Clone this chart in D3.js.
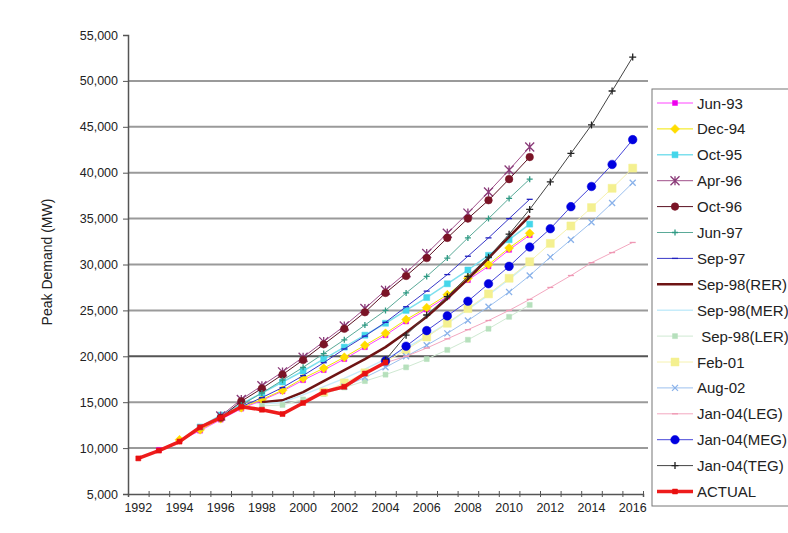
<!DOCTYPE html>
<html>
<head>
<meta charset="utf-8">
<script src="https://cdn.jsdelivr.net/npm/d3@7"></script>
<style>
  body { margin: 0; background: #fff; }
  text { font-family: "Liberation Sans", Arial, sans-serif; fill: #222; }
</style>
</head>
<body>
<div id="chart"></div>
<script>
// categories (years on the x axis)
const years = [1992, 1993, 1994, 1995, 1996, 1997, 1998, 1999, 2000, 2001, 2002, 2003, 2004,
               2005, 2006, 2007, 2008, 2009, 2010, 2011, 2012, 2013, 2014, 2015, 2016];
const yearLabels = [1992, 1994, 1996, 1998, 2000, 2002, 2004, 2006, 2008, 2010, 2012, 2014, 2016];
const yTicks = [5000, 10000, 15000, 20000, 25000, 30000, 35000, 40000, 45000, 50000, 55000];

// series values (MW), each starts at its own first year
const actual   = [8877, 9730, 10709, 12268, 13311, 14506, 14180, 13712, 14918, 16126, 16681, 18121, 19326]; // 1992-2004
const jun93    = [9800, 10800, 11900, 13100, 14300, 15200, 16200, 17400, 18500, 19700, 21000, 22300, 23800, 25100, 26500, 28300, 29800, 31600, 33200]; // 1993-2011
const dec94    = [10900, 12000, 13200, 14400, 15300, 16300, 17600, 18700, 19900, 21200, 22500, 24000, 25300, 26700, 28500, 30000, 31800, 33400]; // 1994-2011
const oct95    = [12300, 13600, 14800, 16000, 17200, 18400, 19700, 21000, 22300, 23600, 25000, 26400, 27900, 29400, 31000, 32700, 34400]; // 1995-2011
const apr96    = [13500, 15300, 16800, 18300, 19900, 21600, 23300, 25200, 27200, 29100, 31200, 33400, 35600, 37900, 40300, 42800]; // 1996-2011
const oct96    = [13300, 15100, 16500, 18000, 19600, 21300, 23000, 24800, 26900, 28750, 30700, 32900, 35000, 37000, 39300, 41700]; // 1996-2011
const jun97    = [14700, 16000, 17400, 18800, 20300, 21800, 23400, 25000, 26900, 28700, 30700, 32900, 35000, 37200, 39300]; // 1997-2011
const sep97    = [14500, 15500, 16600, 17900, 19300, 20800, 22200, 23700, 25400, 27100, 28900, 30900, 32900, 35000, 37100]; // 1997-2011
const sep98rer = [15000, 15200, 16100, 17300, 18500, 19700, 21000, 22600, 24300, 26300, 28400, 30700, 33000, 35300]; // 1998-2011
const sep98mer = [14800, 15000, 15800, 16700, 17600, 18600, 19700, 20900, 22200, 23600, 25100, 26700, 28400, 30200]; // 1998-2011
const sep98ler = [14600, 14700, 15300, 15900, 16600, 17300, 18000, 18800, 19700, 20700, 21800, 23000, 24300, 25600]; // 1998-2011
const feb01    = [16100, 17100, 18200, 19400, 20700, 22100, 23600, 25200, 26800, 28500, 30300, 32300, 34200, 36200, 38300, 40500]; // 2001-2016
const aug02    = [16700, 17700, 18800, 20000, 21200, 22500, 23900, 25400, 27000, 28800, 30800, 32700, 34600, 36700, 38900]; // 2002-2016
const jan04leg = [19300, 20000, 20900, 21900, 22900, 23900, 25000, 26200, 27500, 28800, 30200, 31300, 32400]; // 2004-2016
const jan04meg = [19500, 21100, 22800, 24400, 26000, 27900, 29800, 31900, 33900, 36300, 38500, 40900, 43600]; // 2004-2016
const jan04teg = [19600, 22300, 24500, 26500, 28700, 30800, 33300, 36000, 39000, 42100, 45200, 48900, 52600]; // 2004-2016

// series table: name, first year, values and how it is drawn
let series = [
  {name: "Jun-93",      start: 1993, values: jun93,    color: "#ff44ff", width: 1,   marker: "square",  mcolor: "#ee00ee", r: 2.5},
  {name: "Dec-94",      start: 1994, values: dec94,    color: "#f2e600", width: 1,   marker: "diamond", mcolor: "#ffdd00", r: 4.5},
  {name: "Oct-95",      start: 1995, values: oct95,    color: "#7ee0ee", width: 1.5, marker: "square",  mcolor: "#44d6ea", r: 3},
  {name: "Apr-96",      start: 1996, values: apr96,    color: "#a0508a", width: 1,   marker: "star",    mcolor: "#8a3a78", r: 4.5},
  {name: "Oct-96",      start: 1996, values: oct96,    color: "#5a1020", width: 1,   marker: "circle",  mcolor: "#7a1426", r: 3.8},
  {name: "Jun-97",      start: 1997, values: jun97,    color: "#5aaa98", width: 1,   marker: "plus",    mcolor: "#2f9a84", r: 3},
  {name: "Sep-97",      start: 1997, values: sep97,    color: "#3838c8", width: 1,   marker: "dash",    mcolor: "#2020c0", r: 3},
  {name: "Sep-98(RER)", start: 1998, values: sep98rer, color: "#6e1414", width: 2.5, marker: null},
  {name: "Sep-98(MER)", start: 1998, values: sep98mer, color: "#c6ecfa", width: 1.5, marker: null},
  {name: " Sep-98(LER)", start: 1998, values: sep98ler, color: "#cfe9d2", width: 1,  marker: "square",  mcolor: "#b6e0bc", r: 2.5},
  {name: "Feb-01",      start: 2001, values: feb01,    color: "#f6f2b0", width: 1,   marker: "square",  mcolor: "#f4f090", r: 4},
  {name: "Aug-02",      start: 2002, values: aug02,    color: "#9cc0ee", width: 1,   marker: "x",       mcolor: "#8ab2ea", r: 3},
  {name: "Jan-04(LEG)", start: 2004, values: jan04leg, color: "#f3a8c0", width: 1,   marker: "dash",    mcolor: "#ef98b4", r: 3},
  {name: "Jan-04(MEG)", start: 2004, values: jan04meg, color: "#4646d8", width: 1,   marker: "circle",  mcolor: "#0000e0", r: 4.3},
  {name: "Jan-04(TEG)", start: 2004, values: jan04teg, color: "#444444", width: 1,   marker: "plus",    mcolor: "#222222", r: 3.5},
  {name: "ACTUAL",      start: 1992, values: actual,   color: "#ee1c1c", width: 3.5, marker: "square",  mcolor: "#e81010", r: 2.5}
];

let W = 788, H = 533;
let plot = {left: 128, right: 643, top: 35, bottom: 494};

let svg = d3.select("#chart")
  .append("svg")
    .attr("width", W)
    .attr("height", H);

// scales
let x = d3.scaleLinear()
    .domain([years[0] - 0.5, years[years.length - 1] + 0.5])
    .range([plot.left, plot.right]);

let y = d3.scaleLinear()
    .domain([5000, 55000])
    .range([plot.bottom, plot.top]);

// horizontal grid lines
svg.append("g")
  .selectAll("line")
  .data(yTicks.filter(v => v > 5000 && v < 55000))
  .enter().append("line")
    .attr("x1", plot.left)
    .attr("x2", plot.right + 5)
    .attr("y1", d => y(d))
    .attr("y2", d => y(d))
    .attr("stroke", d => d === 20000 ? "#555" : "#9a9a9a")
    .attr("stroke-width", 2);

// y axis
let yAxis = svg.append("g")
    .attr("transform", `translate(${plot.left},0)`)
    .call(d3.axisLeft(y)
      .tickValues(yTicks)
      .tickSize(5)
      .tickPadding(5)
      .tickFormat(d3.format(",")));
yAxis.select(".domain").attr("stroke", "#555").attr("stroke-width", 1.5);
yAxis.selectAll(".tick line").attr("stroke", "#555");
yAxis.selectAll("text").style("font-size", "12.5px").attr("fill", "#333");

// x axis: ticks between categories, labels every other year
let xAxis = svg.append("g")
    .attr("transform", `translate(0,${plot.bottom})`)
    .call(d3.axisBottom(x)
      .tickValues(d3.range(years[0] - 0.5, years[years.length - 1] + 1, 1))
      .tickSize(3)
      .tickFormat(""));
xAxis.select(".domain").attr("stroke", "#555").attr("stroke-width", 1.5);
xAxis.selectAll(".tick line").attr("stroke", "#555").attr("y1", -3);

svg.append("g")
  .selectAll("text")
  .data(yearLabels)
  .enter().append("text")
    .attr("x", d => x(d))
    .attr("y", plot.bottom + 18)
    .attr("text-anchor", "middle")
    .style("font-size", "12.5px")
    .attr("fill", "#333")
    .text(d => d);

// y axis title
svg.append("text")
    .attr("transform", `translate(52,262) rotate(-90)`)
    .attr("text-anchor", "middle")
    .style("font-size", "14px")
    .text("Peak Demand (MW)");

// marker shapes
function shape(type, r) {
  if (type === "square") return `M${-r},${-r}h${2 * r}v${2 * r}h${-2 * r}Z`;
  if (type === "diamond") return `M0,${-r}L${r},0L0,${r}L${-r},0Z`;
  if (type === "circle") return d3.symbol(d3.symbolCircle, Math.PI * r * r)();
  if (type === "plus") return `M${-r},0H${r}M0,${-r}V${r}`;
  if (type === "x") return `M${-r},${-r}L${r},${r}M${-r},${r}L${r},${-r}`;
  if (type === "star") return `M${-r},${-r}L${r},${r}M${-r},${r}L${r},${-r}M0,${-r}V${r}`;
  if (type === "dash") return `M${-r},0H${r}`;
  return "";
}
let filled = t => t === "square" || t === "diamond" || t === "circle";

let line = d3.line()
    .x(d => x(d.year))
    .y(d => y(d.value));

// draw the series
series.forEach(s => {
  let pts = s.values.map((v, i) => ({year: s.start + i, value: v}));
  let g = svg.append("g");
  g.append("path")
      .datum(pts)
      .attr("fill", "none")
      .attr("stroke", s.color)
      .attr("stroke-width", s.width)
      .attr("stroke-linejoin", "round")
      .attr("d", line);
  if (s.marker) {
    g.selectAll("path.m")
      .data(pts)
      .enter().append("path")
        .attr("class", "m")
        .attr("transform", d => `translate(${x(d.year)},${y(d.value)})`)
        .attr("d", shape(s.marker, s.r))
        .attr("fill", filled(s.marker) ? s.mcolor : "none")
        .attr("stroke", s.mcolor)
        .attr("stroke-width", filled(s.marker) ? 0.5 : 1.3);
  }
});

// legend
let lg = svg.append("g").attr("transform", "translate(652,89)");
lg.append("rect")
    .attr("width", 160)
    .attr("height", 417)
    .attr("fill", "#fff")
    .attr("stroke", "#777")
    .attr("stroke-width", 1);

let item = lg.selectAll("g.item")
  .data(series)
  .enter().append("g")
    .attr("class", "item")
    .attr("transform", (d, i) => `translate(0,${14 + i * 25.9})`);

item.append("line")
    .attr("x1", 5).attr("x2", 41)
    .attr("stroke", d => d.color)
    .attr("stroke-width", d => d.width);

item.filter(d => d.marker).append("path")
    .attr("transform", "translate(23,0)")
    .attr("d", d => shape(d.marker, d.r))
    .attr("fill", d => filled(d.marker) ? d.mcolor : "none")
    .attr("stroke", d => d.mcolor)
    .attr("stroke-width", d => filled(d.marker) ? 0.5 : 1.3);

item.append("text")
    .attr("x", 45)
    .attr("y", 5.5)
    .style("font-size", "15px")
    .style("white-space", "pre")
    .attr("xml:space", "preserve")
    .text(d => d.name);
</script>
</body>
</html>
